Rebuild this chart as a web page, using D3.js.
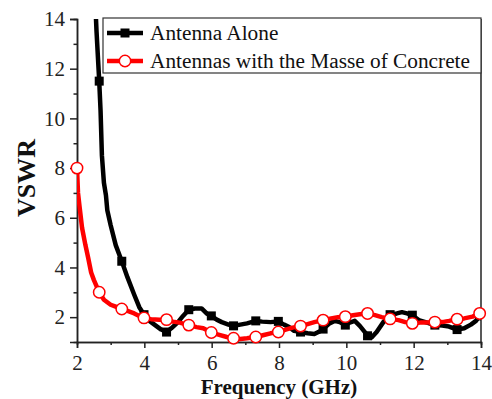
<!DOCTYPE html>
<html><head><meta charset="utf-8">
<script src="https://cdn.jsdelivr.net/npm/d3@7"></script>
<style>body{margin:0;background:#fff}svg{display:block}text{font-family:"Liberation Serif","Times New Roman",serif}</style>
</head><body>
<svg id="c" width="492" height="399"></svg>
<script>
const seriesNames = ["Antenna Alone", "Antennas with the Masse of Concrete"];
const markerFreqs = [2.00,2.66,3.33,3.99,4.66,5.32,5.99,6.65,7.31,7.98,8.64,9.31,9.97,10.63,11.30,11.96,12.63,13.29,13.96];
const aloneFreq = [2.50,2.58,2.66,2.70,2.74,2.80,2.86,2.90,3.00,3.15,3.33,3.50,3.70,3.85,3.99,4.15,4.35,4.50,4.66,4.80,5.00,5.15,5.32,5.50,5.70,5.85,5.99,6.15,6.30,6.50,6.65,6.85,7.05,7.31,7.50,7.75,7.98,8.15,8.30,8.45,8.64,8.85,9.05,9.20,9.31,9.50,9.65,9.80,9.97,10.10,10.25,10.40,10.55,10.63,10.75,10.90,11.10,11.30,11.50,11.65,11.80,11.96,12.15,12.35,12.63,12.85,13.05,13.29,13.50,13.70,13.85,13.96];
const aloneVswr = [16.0,13.5,11.5,10.3,8.5,7.4,6.9,6.3,5.7,4.9,4.25,3.6,2.9,2.4,2.1,1.85,1.65,1.5,1.4,1.55,1.8,2.05,2.3,2.35,2.35,2.15,2.05,1.9,1.8,1.7,1.65,1.7,1.75,1.85,1.82,1.8,1.83,1.7,1.6,1.45,1.4,1.35,1.32,1.42,1.52,1.75,1.85,1.8,1.68,1.78,1.85,1.65,1.4,1.25,1.18,1.4,1.8,2.1,2.15,2.2,2.15,2.08,1.88,1.8,1.68,1.66,1.62,1.5,1.55,1.7,1.85,2.05];
const concreteFreq = [2.00,2.03,2.08,2.15,2.25,2.33,2.42,2.50,2.66,2.80,3.00,3.15,3.33,3.50,3.70,3.85,3.99,4.20,4.45,4.66,4.85,5.05,5.32,5.55,5.75,5.99,6.20,6.45,6.65,6.85,7.05,7.31,7.55,7.75,7.98,8.20,8.40,8.64,8.85,9.05,9.31,9.55,9.75,9.97,10.20,10.40,10.63,10.85,11.05,11.30,11.55,11.75,11.96,12.20,12.40,12.63,12.85,13.05,13.29,13.50,13.75,13.96];
const concreteVswr = [8.0,7.0,6.4,5.6,4.9,4.4,3.8,3.5,3.0,2.7,2.5,2.42,2.33,2.25,2.15,2.05,1.97,1.92,1.9,1.9,1.82,1.78,1.68,1.6,1.55,1.38,1.3,1.2,1.15,1.12,1.15,1.2,1.28,1.35,1.4,1.5,1.58,1.64,1.72,1.8,1.88,1.95,2.0,2.02,2.08,2.12,2.15,2.08,2.0,1.93,1.88,1.8,1.75,1.78,1.78,1.8,1.8,1.85,1.92,1.95,2.02,2.15];
const xTicks = [2,4,6,8,10,12,14];
const yTicks = [2,4,6,8,10,12,14];

const svg = d3.select("#c");
const L = 77, R = 481, T = 19, B = 342;
const x = d3.scaleLinear().domain([2,14]).range([L,R]);
const y = d3.scaleLinear().domain([1,14]).range([B,T]);
const axisColor = "#222";
const fontSerif = '"Liberation Serif","Times New Roman",serif';

svg.append("defs").append("clipPath").attr("id","clip")
  .append("rect").attr("x",L).attr("y",T).attr("width",R-L).attr("height",B-T);

const xAxis = svg.append("g").attr("transform",`translate(0,${B})`)
  .call(d3.axisBottom(x).tickValues(xTicks).tickSize(6).tickPadding(7).tickFormat(d3.format("d")));
const xMinor = svg.append("g").attr("transform",`translate(0,${B})`)
  .call(d3.axisBottom(x).tickValues([3,5,7,9,11,13]).tickSize(3).tickFormat(""));
const yAxis = svg.append("g").attr("transform",`translate(${L},0)`)
  .call(d3.axisLeft(y).tickValues(yTicks).tickSize(7).tickPadding(5).tickFormat(d3.format("d")));
const yMinor = svg.append("g").attr("transform",`translate(${L},0)`)
  .call(d3.axisLeft(y).tickValues([3,5,7,9,11,13]).tickSize(3.5).tickFormat(""));
[xAxis,xMinor,yAxis,yMinor].forEach(g=>{
  g.attr("font-family",null).attr("font-size",null);
  g.select(".domain").attr("stroke",axisColor).attr("stroke-width",1.5);
  g.selectAll(".tick line").attr("stroke",axisColor).attr("stroke-width",1.5);
  g.selectAll("text").style("font-family",fontSerif).style("font-size","21px").attr("fill","#222");
});
svg.append("line").attr("x1",R).attr("x2",R).attr("y1",T).attr("y2",B)
  .attr("stroke",axisColor).attr("stroke-width",1.5);

svg.append("text").attr("x",(L+R)/2).attr("y",394).attr("text-anchor","middle")
  .style("font-family",fontSerif).style("font-weight","bold").style("font-size","21px")
  .attr("fill","#111").text("Frequency (GHz)");
svg.append("text").attr("transform",`translate(35,178) rotate(-90)`).attr("text-anchor","middle")
  .style("font-family",fontSerif).style("font-weight","bold").style("font-size","26px")
  .attr("fill","#111").text("VSWR");

const line = d3.line().x(d=>x(d[0])).y(d=>y(d[1]));
const blackData = d3.zip(aloneFreq, aloneVswr);
const redData = d3.zip(concreteFreq, concreteVswr);
const plot = svg.append("g").attr("clip-path","url(#clip)");

plot.append("path").datum(blackData).attr("d",line).attr("fill","none")
  .attr("stroke","#000").attr("stroke-width",4.5).attr("stroke-linejoin","round");
const blackMarks = blackData.filter(d=>markerFreqs.includes(d[0]));
plot.selectAll(".sq").data(blackMarks).join("rect")
  .attr("x",d=>x(d[0])-4.5).attr("y",d=>y(d[1])-4.5).attr("width",9).attr("height",9).attr("fill","#000");

plot.append("path").datum(redData).attr("d",line).attr("fill","none")
  .attr("stroke","#f00").attr("stroke-width",4.5).attr("stroke-linejoin","round");
const redMarks = redData.filter(d=>markerFreqs.includes(d[0]));
svg.selectAll(".ci").data(redMarks).join("circle")
  .attr("cx",d=>x(d[0])).attr("cy",d=>y(d[1])).attr("r",5.7)
  .attr("fill","#fff").attr("stroke","#f00").attr("stroke-width",1.5);

const lg = svg.append("g");
lg.append("rect").attr("x",103).attr("y",18).attr("width",R-103).attr("height",55)
  .attr("fill","#fff").attr("stroke","#333").attr("stroke-width",1.2);
const rows = [{name:seriesNames[0],color:"#000",mark:"sq",cy:33},{name:seriesNames[1],color:"#f00",mark:"ci",cy:61}];
rows.forEach(r=>{
  lg.append("line").attr("x1",107).attr("x2",143).attr("y1",r.cy).attr("y2",r.cy)
    .attr("stroke",r.color).attr("stroke-width",4.5);
  if(r.mark==="sq") lg.append("rect").attr("x",125-4.5).attr("y",r.cy-4.5).attr("width",9).attr("height",9).attr("fill","#000");
  else lg.append("circle").attr("cx",125).attr("cy",r.cy).attr("r",5.7).attr("fill","#fff").attr("stroke","#f00").attr("stroke-width",1.5);
  lg.append("text").attr("x",150).attr("y",r.cy+7).style("font-family",fontSerif).style("font-size","21.3px")
    .attr("fill","#111").text(r.name);
});
</script>
</body></html>
